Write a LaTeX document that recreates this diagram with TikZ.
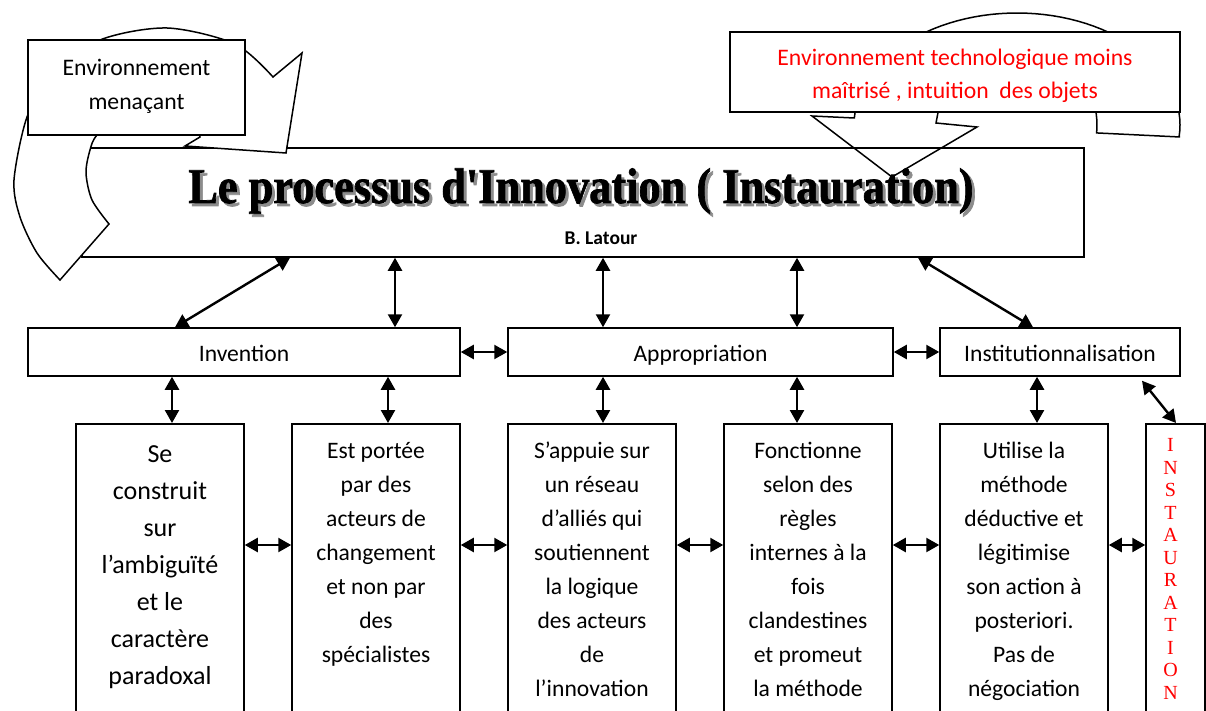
\documentclass[tikz,border=0pt]{standalone}
\usepackage{fontspec}
\usepackage{graphicx}
\setmainfont{Carlito}
\newfontfamily\titlefont{Liberation Serif}[BoldFeatures={FakeBold=1.5}]
\usetikzlibrary{positioning,arrows.meta}

\tikzset{
    box/.style={draw, line width=1.5pt, inner sep=0pt},
    topbox/.style={box, fill=white},
    toptext/.style={align=center, inner sep=0pt, font=\fontsize{23.7}{33.5}\selectfont},
    midbox/.style={box, minimum height=48pt, text height=18pt, text depth=0pt, font=\fontsize{23.6}{28}\selectfont},
    lowbox/.style={box, anchor=north, minimum width=168pt, minimum height=320pt},
    lowtext/.style={align=center, inner sep=0pt, anchor=north, font=\fontsize{23.6}{34}\selectfont},
    bigarrow/.style={draw, fill=white, line width=1.5pt, line join=miter},
    titletext/.style={inner sep=0pt, anchor=base, font=\titlefont\bfseries\fontsize{50}{50}\selectfont},
    dbl/.style={{Triangle[length=13pt,width=14pt]}-{Triangle[length=13pt,width=14pt]}, line width=2.4pt},
}

\begin{document}
\begin{tikzpicture}[x=1pt,y=-1pt]
    \useasboundingbox (0,0) rectangle (1206,711);
    \clip (0,0) rectangle (1206,711);

    %%%%%%%%%% Fleche droite %%%%%%%%%%
    \path[bigarrow] (1180,137) -- (1098,133)
        -- plot[domain=-5.7:171.4, samples=40] ({1017+80*cos(\x)},{125-80*sin(\x)})
        -- (936,123) -- (977,127) -- (892,177) -- (812,116) -- (854,118)
        -- plot[domain=176.4:-6.1, samples=60] ({1017+163*cos(\x)},{125-112*sin(\x)}) -- cycle;

    %%%%%%%%%% Titre %%%%%%%%%%
    \node[box, minimum width=1002pt, minimum height=109pt] (title) at (583,202.5) {};

    %%%%%%%%%% Fleche gauche %%%%%%%%%%
    \path[bigarrow] (60,280) -- (109,224)
        -- plot[smooth] coordinates {(109,224) (92,200) (86,173) (90,150) (97,135) (125,108) (165,103) (193,120) (200,137)}
        -- (185,146) -- (286,153) -- (302,53) -- (273,77)
        -- plot[smooth] coordinates {(273,77) (235,44) (167,28) (100,40) (52,75) (27,117) (14,180) (20,217) (37,253) (60,280)} -- cycle;

    %%%%%%%%%% Environnement %%%%%%%%%%
    \node[topbox, minimum width=217pt, minimum height=95pt] (menace) at (136.5,87.5) {};
    \node[toptext, yshift=1pt] (menacetxt) at (menace.center) {Environnement\\menaçant};
    \node[topbox, minimum width=450pt, minimum height=80pt] (techno) at (955,72) {};
    \node[toptext, text=red, yshift=-4pt] (technotxt) at (techno.center)
        {Environnement technologique moins\\maîtrisé , intuition\ \ des objets};

    \node[titletext] (ttl) at (581,203)
        {\rlap{\hspace{3pt}\raisebox{-3pt}{\color{black!45}\scalebox{0.887}[1]{Le processus d'Innovation ( Instauration)}}}%
         \scalebox{0.887}[1]{Le processus d'Innovation ( Instauration)}};
    \node[inner sep=0pt, anchor=base, font=\fontsize{19.5}{22}\selectfont\bfseries] (latour) at (601,244) {B. Latour};

    %%%%%%%%%% Etapes %%%%%%%%%%
    \node[midbox, minimum width=432pt] (inv) at (244,352) {Invention};
    \node[midbox, minimum width=385pt] (app) at (700.5,352) {Appropriation};
    \node[midbox, minimum width=240pt] (inst) at (1060,352) {Institutionnalisation};

    %%%%%%%%%% Caracteristiques %%%%%%%%%%
    \node[lowbox] (b1) at (160,423) {};
    \node[lowbox] (b2) at (376,423) {};
    \node[lowbox] (b3) at (592,423) {};
    \node[lowbox] (b4) at (808,423) {};
    \node[lowbox] (b5) at (1024,423) {};
    \node[lowbox, minimum width=59pt] (instau) at (1175.5,423) {};

    \node[lowtext, font=\fontsize{26}{37}\selectfont, below=13pt of b1.north] (t1)
        {\strut Se\\construit\\sur\\l’ambiguïté\\et le\\caractère\\paradoxal};
    \node[lowtext, below=11pt of b2.north] (t2)
        {\strut Est portée\\par des\\acteurs de\\changement\\et non par\\des\\spécialistes};
    \node[lowtext, below=11pt of b3.north] (t3)
        {\strut S’appuie sur\\un réseau\\d’alliés qui\\soutiennent\\la logique\\des acteurs\\de\\l’innovation};
    \node[lowtext, below=11pt of b4.north] (t4)
        {\strut Fonctionne\\selon des\\règles\\internes à la\\fois\\clandestines\\et promeut\\la méthode};
    \node[lowtext, below=11pt of b5.north] (t5)
        {\strut Utilise la\\méthode\\déductive et\\légitimise\\son action à\\posteriori.\\Pas de\\négociation};
    \node[lowtext, text=red, font=\titlefont\fontsize{20}{22.5}\selectfont, below=13pt of instau.north, xshift=-5pt] (t6)
        {\strut I\\N\\S\\T\\A\\U\\R\\A\\T\\I\\O\\N};

    %%%%%%%%% Fleches %%%%%%%%%
    \draw[dbl] (290,0 |- title.south) -- (175,0 |- inv.north);
    \draw[dbl] (395,0 |- title.south) -- (395,0 |- inv.north);
    \draw[dbl] (603,0 |- title.south) -- (603,0 |- app.north);
    \draw[dbl] (797,0 |- title.south) -- (797,0 |- app.north);
    \draw[dbl] (918,0 |- title.south) -- (1033,0 |- inst.north);

    \draw[dbl] (inv) -- (app);
    \draw[dbl] (app) -- (inst);

    \draw[dbl] (172,0 |- inv.south) -- (172,0 |- b1.north);
    \draw[dbl] (388,0 |- inv.south) -- (388,0 |- b2.north);
    \draw[dbl] (603,0 |- app.south) -- (603,0 |- b3.north);
    \draw[dbl] (797,0 |- app.south) -- (797,0 |- b4.north);
    \draw[dbl] (1037,0 |- inst.south) -- (1037,0 |- b5.north);
    \draw[dbl] ([yshift=-4pt]1142,0 |- inst.south) -- (1176,0 |- instau.north);

    \draw[dbl] (b1.east |- 0,545) -- (b2.west |- 0,545);
    \draw[dbl] (b2.east |- 0,545) -- (b3.west |- 0,545);
    \draw[dbl] (b3.east |- 0,545) -- (b4.west |- 0,545);
    \draw[dbl] (b4.east |- 0,545) -- (b5.west |- 0,545);
    \draw[dbl] (b5.east |- 0,545) -- (instau.west |- 0,545);
\end{tikzpicture}
\end{document}
